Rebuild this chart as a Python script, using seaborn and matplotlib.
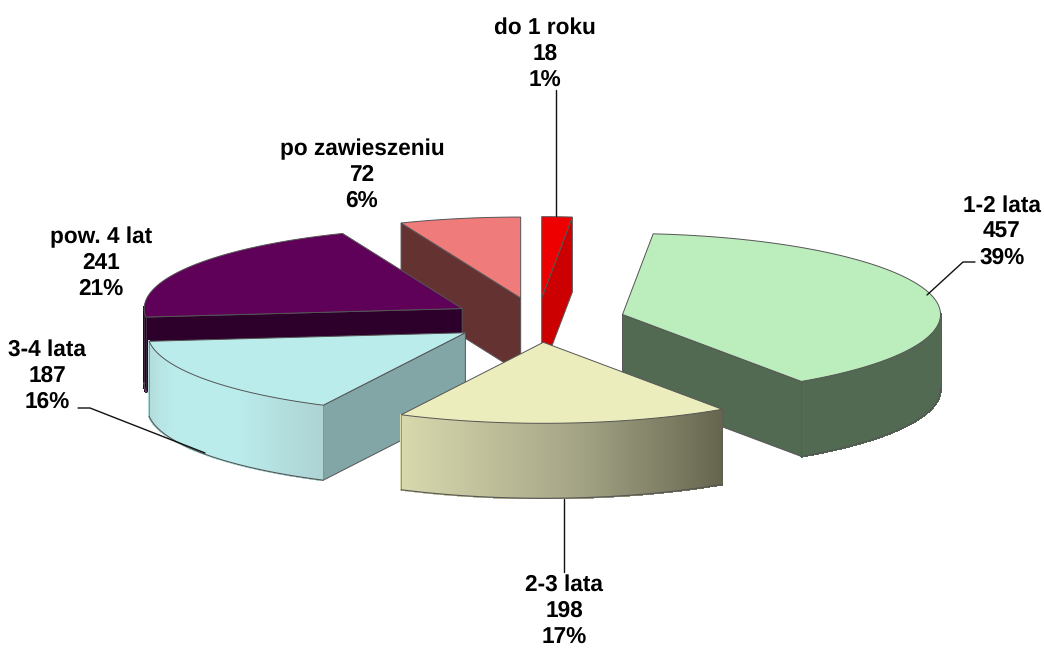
# exploded 3d pie, seaborn palettes + matplotlib polygons

import numpy as np
import seaborn as sns
import matplotlib.pyplot as plt
from matplotlib.collections import PolyCollection

# data
categories = ['do 1 roku', '1-2 lata', '2-3 lata', '3-4 lata', 'pow. 4 lat', 'po zawieszeniu']
values = [18, 457, 198, 187, 241, 72]
percents = ['1%', '39%', '17%', '16%', '21%', '6%']

# colours per slice: top, cut face, rim gradient (left to right)
top_colors = ['#ee0000', '#bcedbc', '#ecedbc', '#bbecec', '#5f0059', '#ef7b7b']
cut_colors = ['#cc0000', '#526a52', '#66664f', '#82a5a5', '#2c002a', '#653232']
rim_colors = [['#cc0000', '#cc0000'],
              ['#526a52', '#526a52'],
              ['#d9d9ae', '#a9a98a', '#66664f'],
              ['#b2d9d9', '#bbecec', '#bbecec', '#aed4d4'],
              ['#2c002a', '#2c002a'],
              ['#653232', '#653232']]

# label centres and leader lines
label_pos = [(545, 54), (1002, 232), (564, 611), (47, 376), (101, 263), (362, 175)]
leaders = [[(556, 90), (556, 216)],
           [(927, 295), (963, 262), (975, 262)],
           [(564, 499), (564, 572)],
           [(78, 408), (90, 408), (205, 453)]]

# pie geometry
cx, cy = 537.5, 320
rx, ry = 318, 81
depth = 75
explode = 0.276
draw_order = [5, 0, 4, 1, 3, 2]
edge = '#555555'

sns.set_theme(style='white')
plt.rcParams['font.family'] = ['Liberation Sans', 'DejaVu Sans']
plt.rcParams['text.hinting'] = 'none'

fig = plt.figure(figsize=(10.44, 6.48), dpi=100)
ax = fig.add_axes([0, 0, 1, 1])
ax.set_xlim(0, 1044)
ax.set_ylim(648, 0)
ax.axis('off')

edges = np.concatenate([[0], np.cumsum(values)]) / sum(values) * 2 * np.pi


def rim_point(ox, oy, t):
    return ox + rx * np.sin(t), oy - ry * np.cos(t)


for i in draw_order:
    z = draw_order.index(i) * 3
    t0, t1 = edges[i], edges[i + 1]
    mid = (t0 + t1) / 2
    ox = cx + explode * rx * np.sin(mid)
    oy = cy - explode * ry * np.cos(mid)
    t = np.linspace(t0, t1, 120)
    x, y = rim_point(ox, oy, t)

    # cut faces that turn towards the viewer
    for tc, visible in ((t0, np.sin(t0) < -1e-6), (t1, np.sin(t1) > 1e-6)):
        if visible:
            px, py = rim_point(ox, oy, tc)
            ax.fill([ox, px, px, ox], [oy, py, py + depth, oy + depth],
                    facecolor=cut_colors[i], edgecolor=edge, linewidth=0.7, zorder=2 + z)

    # outer wall, only the front half, shaded in thin strips from left to right
    front = np.cos(t) < 0.02
    if front.sum() > 1:
        fx, fy = x[front], y[front]
        order = np.argsort(fx)
        fx, fy = fx[order], fy[order]
        shades = sns.blend_palette(rim_colors[i], n_colors=len(fx) - 1)
        strips = [[(fx[k], fy[k]), (fx[k + 1], fy[k + 1]),
                   (fx[k + 1], fy[k + 1] + depth), (fx[k], fy[k] + depth)]
                  for k in range(len(fx) - 1)]
        ax.add_collection(PolyCollection(strips, facecolors=shades, edgecolors=shades, linewidths=1.0,
                                         antialiaseds=False, zorder=3 + z))
        ax.plot(fx, fy + depth, color=edge, linewidth=0.8, zorder=3 + z)
        ax.plot([fx[0], fx[0]], [fy[0], fy[0] + depth], color=edge, linewidth=0.6, alpha=0.6, zorder=3 + z)
        ax.plot([fx[-1], fx[-1]], [fy[-1], fy[-1] + depth], color=edge, linewidth=0.6, alpha=0.6, zorder=3 + z)

    # top surface
    ax.fill(np.r_[ox, x], np.r_[oy, y], facecolor=top_colors[i], edgecolor=edge, linewidth=0.7, zorder=4 + z)

for pts in leaders:
    ax.plot(*zip(*pts), color='#111111', linewidth=1.0, zorder=30)

for name, val, pct, (lx, ly) in zip(categories, values, percents, label_pos):
    ax.text(lx, ly, f'{name}\n{val}\n{pct}', ha='center', va='center', fontsize=16.3,
            fontweight='bold', color='black', linespacing=1.28, zorder=31)

plt.savefig('out.png', dpi=100)
